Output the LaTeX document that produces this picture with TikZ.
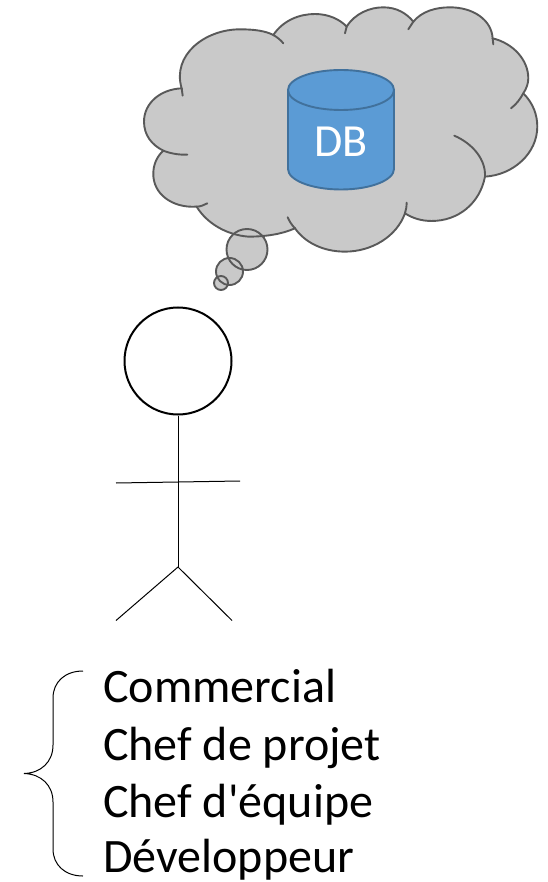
\documentclass[tikz,border=0pt]{standalone}
\usepackage{fontspec}
\newfontfamily\calibrilike{Carlito}
\definecolor{cloudfill}{HTML}{C9C9C9}
\definecolor{cloudline}{HTML}{595959}
\definecolor{dbfill}{HTML}{5B9BD5}
\definecolor{dbline}{HTML}{41719C}
\tikzset{
  cloudstroke/.style={draw=cloudline,line width=1.9pt,line cap=round},
  bubblefill/.style={circle,fill=cloudfill,inner sep=0pt},
  bubbleline/.style={circle,draw=cloudline,line width=1.9pt,inner sep=0pt},
  stick/.style={draw=black,line width=1pt},
  role/.style={anchor=base west,inner sep=0pt,font=\calibrilike\fontsize{48}{55}\selectfont}
}
\begin{document}
\begin{tikzpicture}[x=1pt,y=-1pt]
\useasboundingbox (0,0) rectangle (547,882);
% thought bubble fills
\node[bubblefill,minimum size=42pt] (f1) at (247,249.5) {};
\node[bubblefill,minimum size=28pt] (f2) at (229.5,271.5) {};
\node[bubblefill,minimum size=15pt] (f3) at (221,283) {};
% cloud
\begin{scope}[shift={(130,0)},x=0.3333pt,y=-0.3333pt]
\path[fill=cloudfill,cloudstroke]
 (155,265) .. controls (125,165) and (225,88) .. (330,88)
 .. controls (370,88) and (405,92) .. (430,105)
 .. controls (460,60) and (510,42) .. (555,42)
 .. controls (595,42) and (630,58) .. (650,80)
 .. controls (675,40) and (720,22) .. (760,22)
 .. controls (800,22) and (830,40) .. (850,65)
 .. controls (875,35) and (915,22) .. (960,22)
 .. controls (1030,22) and (1085,60) .. (1088,115)
 .. controls (1150,130) and (1195,180) .. (1195,235)
 .. controls (1195,250) and (1190,265) .. (1180,280)
 .. controls (1210,310) and (1222,345) .. (1222,380)
 .. controls (1222,460) and (1150,525) .. (1065,530)
 .. controls (1050,610) and (985,663) .. (905,663)
 .. controls (875,663) and (848,655) .. (825,640)
 .. controls (800,710) and (725,755) .. (645,755)
 .. controls (580,755) and (525,728) .. (495,685)
 .. controls (455,703) and (405,710) .. (355,710)
 .. controls (290,705) and (230,670) .. (200,620)
 .. controls (125,625) and (68,580) .. (70,520)
 .. controls (70,495) and (80,470) .. (100,452)
 .. controls (65,435) and (42,405) .. (42,365)
 .. controls (42,310) and (90,268) .. (155,265) -- cycle;
\draw[cloudstroke] (155,265) -- (158,287);
\draw[cloudstroke] (430,105) .. controls (442,112) and (452,120) .. (460,130);
\draw[cloudstroke] (650,80) -- (645,100);
\draw[cloudstroke] (850,65) -- (835,88);
\draw[cloudstroke] (1088,115) -- (1090,133);
\draw[cloudstroke] (1180,280) .. controls (1170,298) and (1160,312) .. (1143,325);
\draw[cloudstroke] (1065,530) .. controls (1068,480) and (1030,432) .. (973,407);
\draw[cloudstroke] (825,640) .. controls (828,630) and (830,620) .. (830,608);
\draw[cloudstroke] (495,685) .. controls (485,675) and (478,663) .. (473,652);
\draw[cloudstroke] (200,620) .. controls (212,620) and (222,615) .. (232,610);
\draw[cloudstroke] (100,452) .. controls (120,460) and (145,465) .. (172,464);
\end{scope}
% thought bubble outlines, on top of everything
\node[bubbleline,minimum size=41pt] (b1) at (247,249.5) {};
\node[bubbleline,minimum size=27pt] (b2) at (229.5,271.5) {};
\node[bubbleline,minimum size=14pt] (b3) at (221,283) {};
% database
\path[fill=dbfill,draw=dbline,line width=1.9pt] (288,90) -- (288,169)
  .. controls (288,180) and (311,189.5) .. (341,189.5)
  .. controls (371,189.5) and (394,180) .. (394,169) -- (394,90)
  .. controls (394,79) and (371,70) .. (341,70)
  .. controls (311,70) and (288,79) .. (288,90) -- cycle;
\draw[dbline,line width=1.9pt] (288,90) .. controls (288,101) and (311,110) .. (341,110)
  .. controls (371,110) and (394,101) .. (394,90);
\node[text=white,font=\calibrilike\fontsize{46}{52}\selectfont,inner sep=0pt,anchor=base] (db) at (341,157) {DB};
% stick figure
\node[circle,draw=black,fill=white,line width=2pt,minimum size=107pt,inner sep=0pt] (head) at (178,361) {};
\coordinate (hip) at (178,567);
\coordinate (armL) at (116,483);
\coordinate (armR) at (240,481);
\coordinate (legL) at (116,620.5);
\coordinate (legR) at (232,620.5);
\draw[stick] (head.south) -- (hip);
\draw[stick] (armL) -- (armR);
\draw[stick] (hip) -- (legL);
\draw[stick] (hip) -- (legR);
% brace
\draw[black,line width=1pt] (83,671) .. controls (65,671) and (53,682) .. (53,698)
  -- (53,745) .. controls (53,762) and (41,773) .. (24,773.5)
  .. controls (41,774) and (53,785) .. (53,802)
  -- (53,849) .. controls (53,865) and (65,876) .. (83,876);
% roles
\node[role] (r1) at (103,702.5) {Commercial};
\node[role] (r2) at (103,760) {Chef de projet};
\node[role] (r3) at (103,817) {Chef d'équipe};
\node[role] (r4) at (103,872.5) {Développeur};
\end{tikzpicture}
\end{document}
